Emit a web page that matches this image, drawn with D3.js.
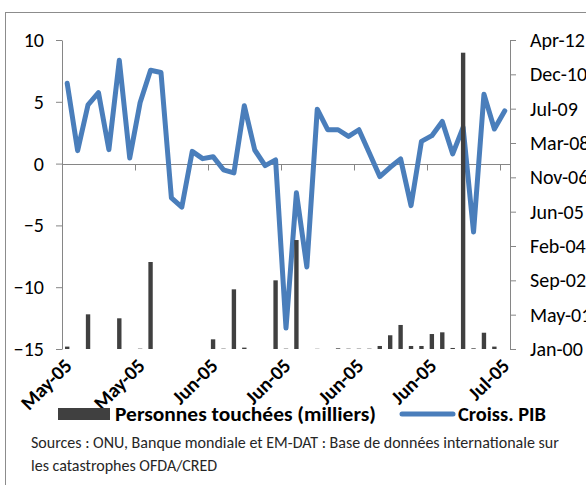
<!DOCTYPE html>
<html><head><meta charset="utf-8">
<script src="https://cdn.jsdelivr.net/npm/d3@7"></script>
<style>html,body{margin:0;padding:0;background:#fff;overflow:hidden}</style>
</head><body><svg id="c" width="586" height="485"></svg>
<script>
const years = [1970,1971,1972,1973,1974,1975,1976,1977,1978,1979,1980,1981,1982,1983,1984,1985,1986,1987,1988,1989,1990,1991,1992,1993,1994,1995,1996,1997,1998,1999,2000,2001,2002,2003,2004,2005,2006,2007,2008,2009,2010,2011,2012];
const gdpGrowth = [6.5,1.05,4.76,5.75,1.13,8.36,0.46,4.95,7.55,7.37,
  -2.77,-3.52,0.99,0.4,0.56,-0.5,-0.75,4.68,1.1,-0.16,
  0.3,-13.3,-2.36,-8.36,4.4,2.74,2.74,2.2,2.74,0.85,
  -1.05,-0.3,0.38,-3.4,1.8,2.26,3.41,0.78,2.93,-5.54,
  5.62,2.8,4.27];
const affected = [35,0,505,0,0,447,0,5,1267,0,
  0,0,0,0,141,5,869,20,0,0,
  1000,5,1587,0,3,0,10,5,5,5,
  44,200,350,44,44,218,243,15,4315,10,
  237,35,0];
const leftTicks = [-15,-10,-5,0,5,10];
const rightTickValues = [0,500,1000,1500,2000,2500,3000,3500,4000,4500];
const rightTickLabels = ["Jan-00","May-01","Sep-02","Feb-04","Jun-05","Nov-06","Mar-08","Jul-09","Dec-10","Apr-12"];
const xTickYears = [1970,1977,1984,1991,1998,2005,2012];
const xTickLabels = ["May-05","May-05","Jun-05","Jun-05","Jun-05","Jun-05","Jul-05"];
const seriesNames = ["Personnes touchées (milliers)","Croiss. PIB"];
const sourceLines = ["Sources : ONU, Banque mondiale et EM-DAT : Base de données internationale sur","les catastrophes OFDA/CRED"];

const FONT = "Carlito, Lato, 'Noto Sans', sans-serif";
const AXIS = "#868686";
const BAR = "#404040";
const LINE = "#4a7ebb";

const svg = d3.select("#c").style("font-family", FONT);
svg.append("rect").attr("width",586).attr("height",485).attr("fill","#fff");
svg.append("rect").attr("x",5.5).attr("y",12.5).attr("width",700).attr("height",600)
  .attr("fill","none").attr("stroke","#8c8c8c");

const L = 62, R = 510, T = 40, B = 349;
const x = d3.scaleBand().domain(years).range([L, R]);
const yL = d3.scaleLinear().domain([-15, 10]).range([B, T]);
const yR = d3.scaleLinear().domain([0, 4500]).range([B, T]);

// left axis
const gl = svg.append("g").attr("transform", `translate(${L},0)`)
  .call(d3.axisLeft(yL).tickValues(leftTicks).tickSize(6).tickSizeOuter(0).tickPadding(12));
// right axis
const gr = svg.append("g").attr("transform", `translate(${R},0)`)
  .call(d3.axisRight(yR).tickValues(rightTickValues).tickFormat((d,i)=>rightTickLabels[i])
    .tickSize(6).tickSizeOuter(0).tickPadding(14));
[gl, gr].forEach(g => {
  g.select(".domain").attr("stroke", AXIS);
  g.selectAll(".tick line").attr("stroke", AXIS);
  g.selectAll("text").attr("fill","#000").style("font-size","20px").style("font-family", FONT);
});

// category axis at zero
const y0 = Math.round(yL(0)) + 0.5;
svg.append("line").attr("x1", L).attr("x2", R).attr("y1", y0).attr("y2", y0).attr("stroke", AXIS);
svg.append("g").selectAll("line").data(xTickYears).join("line")
  .attr("x1", d => Math.round(x(d)) + 0.5).attr("x2", d => Math.round(x(d)) + 0.5)
  .attr("y1", y0).attr("y2", y0 + 6).attr("stroke", AXIS);

// line series
svg.append("path").datum(gdpGrowth)
  .attr("fill","none").attr("stroke", LINE).attr("stroke-width", 5)
  .attr("stroke-linejoin","round").attr("stroke-linecap","round")
  .attr("d", d3.line().x((d,i)=>x(years[i]) + x.bandwidth()/2).y(d=>yL(d)));

// bars (secondary axis)
const bw = x.bandwidth() * 0.42;
svg.append("g").selectAll("rect").data(affected).join("rect")
  .attr("x", (d,i)=>x(years[i]) + x.bandwidth()/2 - bw/2)
  .attr("width", bw)
  .attr("y", d=>yR(d))
  .attr("height", d=>yR(0) - yR(d))
  .attr("fill", BAR);

// x tick labels
svg.append("g").selectAll("text").data(xTickYears).join("text")
  .attr("transform", d => `translate(${x(d) + x.bandwidth()/2 + 6},${367}) rotate(-45)`)
  .attr("text-anchor","end")
  .style("font-size","20px").style("font-weight","bold")
  .text((d,i)=>xTickLabels[i]);

// legend
const lg = svg.append("g");
lg.append("rect").attr("x",58).attr("y",408).attr("width",52).attr("height",12).attr("fill",BAR);
lg.append("text").attr("x",115).attr("y",421).style("font-size","21px").style("font-weight","bold")
  .attr("textLength",261).attr("lengthAdjust","spacingAndGlyphs")
  .text(seriesNames[0]);
lg.append("line").attr("x1",402).attr("x2",453).attr("y1",414).attr("y2",414)
  .attr("stroke",LINE).attr("stroke-width",5).attr("stroke-linecap","round");
lg.append("text").attr("x",458).attr("y",421).style("font-size","21px").style("font-weight","bold")
  .attr("textLength",88).attr("lengthAdjust","spacingAndGlyphs")
  .text(seriesNames[1]);

// sources
svg.append("g").selectAll("text").data(sourceLines).join("text")
  .attr("x",31).attr("y",(d,i)=>448 + i*23)
  .style("font-size","16px").attr("fill","#262626")
  .text(d=>d);
</script></body></html>
